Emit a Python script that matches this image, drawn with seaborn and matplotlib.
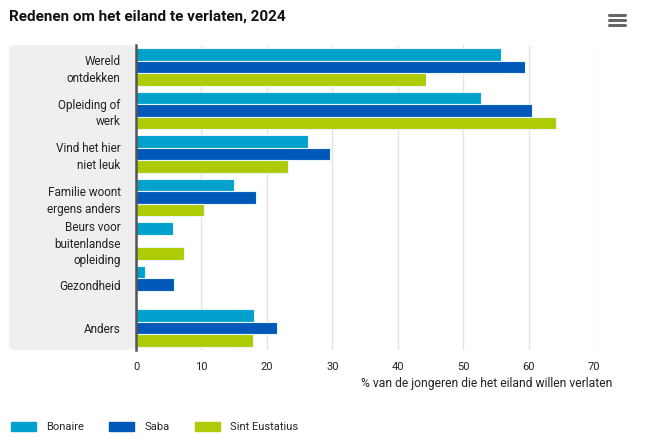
import seaborn as sns
import matplotlib.pyplot as plt
import pandas as pd
import numpy as np
from matplotlib.patches import FancyBboxPatch
from matplotlib.lines import Line2D

redenen = ["Wereld\nontdekken", "Opleiding of\nwerk", "Vind het hier\nniet leuk",
           "Familie woont\nergens anders", "Beurs voor\nbuitenlandse\nopleiding",
           "Gezondheid", "Anders"]
eilanden = ["Bonaire", "Saba", "Sint Eustatius"]
bonaire = [55.8, 52.8, 26.3, 15.0, 5.7, 1.4, 18.0]
saba = [59.5, 60.6, 29.6, 18.3, np.nan, 5.8, 21.6]
sint_eustatius = [44.3, 64.2, 23.2, 10.4, 7.4, np.nan, 17.9]
kleuren = ["#00a1cd", "#0058b8", "#afcb05"]

df = pd.DataFrame({"Reden": redenen * 3,
                   "Eiland": np.repeat(eilanden, len(redenen)),
                   "Procent": bonaire + saba + sint_eustatius})

sns.set_style("white")
plt.rcParams['font.family'] = ['Roboto', 'DejaVu Sans']

fig = plt.figure(figsize=(6.47, 4.45), dpi=100)
W, H = 647, 445

# grey panel behind the category labels
panel = FancyBboxPatch((9 / W, 1 - 350 / H), (136 - 9) / W, (350 - 45) / H,
                       boxstyle="round,pad=0,rounding_size=0.012",
                       transform=fig.transFigure, facecolor="#efefef",
                       edgecolor="none", zorder=0)
fig.add_artist(panel)

ax = fig.add_axes([136 / W, 1 - 350 / H, (594 - 136) / W, (350 - 45) / H])
ax.patch.set_alpha(0)

sns.barplot(data=df, y="Reden", x="Procent", hue="Eiland", orient="h",
            palette=kleuren, hue_order=eilanden, order=redenen, saturation=1,
            width=0.86, edgecolor="#e6f6fb", linewidth=0.8, ax=ax, legend=False)

ax.set_xlim(0, 70)
ax.set_ylim(len(redenen) - 0.5, -0.5)
ax.set_xticks(range(0, 71, 10))
ax.grid(axis="x", color="#e3e3e3", linewidth=1)
ax.set_axisbelow(True)
for s in ["top", "right", "bottom"]:
    ax.spines[s].set_visible(False)
ax.spines["left"].set_color("#555555")
ax.spines["left"].set_linewidth(1.8)
ax.tick_params(axis="y", length=0, pad=11, labelsize=8.5, colors="#222222")
ax.tick_params(axis="x", length=0, pad=9, labelsize=8, colors="#222222")
for lab in ax.get_yticklabels():
    lab.set_multialignment("right")
    lab.set_linespacing(1.35)
ax.set_xlabel("")
ax.set_ylabel("")

fig.text(9 / W, 1 - 17 / H, "Redenen om het eiland te verlaten, 2024",
         fontsize=11, fontweight="bold", color="#111111", va="center")
fig.text(612 / W, 1 - 384 / H, "% van de jongeren die het eiland willen verlaten",
         fontsize=8.7, color="#222222", ha="right", va="center")

# menu icon
for yy in [15, 20, 25]:
    fig.add_artist(Line2D([609 / W, 625 / W], [1 - yy / H, 1 - yy / H],
                          transform=fig.transFigure, color="#666666", linewidth=2.2))

handles = [plt.Rectangle((0, 0), 1, 1, color=c) for c in kleuren]
fig.legend(handles, eilanden, loc="center left", bbox_to_anchor=(1 / W, 1 - 427 / H),
           ncol=3, frameon=False, fontsize=8, handlelength=2.25, handleheight=0.9,
           columnspacing=2.3, handletextpad=0.9)

plt.savefig("out.png", dpi=100)
